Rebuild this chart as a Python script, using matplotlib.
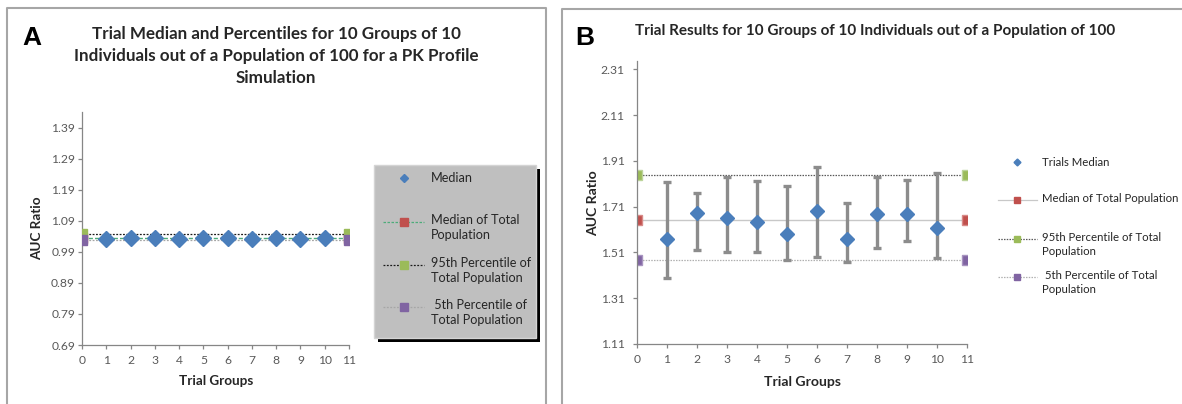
import matplotlib
matplotlib.use("Agg")
import matplotlib.pyplot as plt
from matplotlib.patches import Rectangle

W, H = 1182, 404
plt.rcParams['font.family'] = ['Lato', 'DejaVu Sans']

# ---- data -------------------------------------------------------------
groups = [1, 2, 3, 4, 5, 6, 7, 8, 9, 10]
pop_x = [0, 11]
x_ticks = list(range(0, 12))

# Panel A: medians of 10 trial groups (PK profile simulation)
a_median = [1.030, 1.035, 1.035, 1.032, 1.035, 1.035, 1.032, 1.035, 1.032, 1.035]
a_pop_median = 1.035
a_pop_p95 = 1.048
a_pop_p5 = 1.028
a_yticks = [0.69, 0.79, 0.89, 0.99, 1.09, 1.19, 1.29, 1.39]

# Panel B: trial medians with their ranges
b_median = [1.568, 1.683, 1.660, 1.642, 1.591, 1.690, 1.568, 1.680, 1.679, 1.619]
b_low = [1.399, 1.521, 1.511, 1.511, 1.478, 1.491, 1.470, 1.530, 1.559, 1.488]
b_high = [1.817, 1.770, 1.840, 1.824, 1.802, 1.882, 1.725, 1.840, 1.827, 1.859]
b_pop_median = 1.651
b_pop_p95 = 1.850
b_pop_p5 = 1.479
b_yticks = [1.11, 1.31, 1.51, 1.71, 1.91, 2.11, 2.31]

# ---- colours ----------------------------------------------------------
BLUE = '#4a7ebb'
RED = '#c0504d'
GREEN = '#9bbb59'
PURPLE = '#8064a2'
AXIS = '#868686'
TICKTXT = '#595959'
TXT = '#262626'


def pt(px):
    return px * 72.0 / 100.0


fig = plt.figure(figsize=(W / 100, H / 100), dpi=100)


def px_axes(x0, y0, x1, y1, **kw):
    return fig.add_axes([x0 / W, 1 - y1 / H, (x1 - x0) / W, (y1 - y0) / H], **kw)


def style_axes(ax, yticks, ylim, pad):
    ax.set_xlim(0, 11)
    ax.set_ylim(*ylim)
    ax.set_xticks(x_ticks)
    ax.set_yticks(yticks)
    ax.set_yticklabels([f"{v:.2f}" for v in yticks])
    for s in ('top', 'right'):
        ax.spines[s].set_visible(False)
    for s in ('left', 'bottom'):
        ax.spines[s].set_color(AXIS)
        ax.spines[s].set_linewidth(0.9)
    ax.tick_params(axis='both', colors=AXIS, length=3, width=0.9,
                   labelcolor=TICKTXT, labelsize=8.7)
    ax.tick_params(axis='y', pad=pad)
    ax.tick_params(axis='x', pad=4)
    ax.set_facecolor('none')


# ---- panel A ----------------------------------------------------------
axA = px_axes(82, 112, 349, 345)
style_axes(axA, a_yticks, (0.69, 1.44), 2)
axA.plot(pop_x, [a_pop_median] * 2, color='#4dac7a', lw=1.0, ls=(0, (3, 1.5)),
         marker='s', ms=6.5, mfc=RED, mec=RED, zorder=3)
axA.plot(pop_x, [a_pop_p95] * 2, color='#1a1a1a', lw=0.9, ls=(0, (1.5, 1.2)),
         marker='s', ms=6.5, mfc=GREEN, mec=GREEN, zorder=3)
axA.plot(pop_x, [a_pop_p5] * 2, color='#a6a6a6', lw=0.9, ls=(0, (1.5, 1.2)),
         marker='s', ms=6.5, mfc=PURPLE, mec=PURPLE, zorder=3)
axA.plot(groups, a_median, ls='none', marker='D', ms=8, mfc=BLUE, mec=BLUE,
         zorder=4, clip_on=False)

# ---- panel B ----------------------------------------------------------
axB = px_axes(637, 61, 967, 344)
style_axes(axB, b_yticks, (1.11, 2.347), 6)
axB.plot(pop_x, [b_pop_median] * 2, color='#c8c8c8', lw=1.0,
         marker='s', ms=6.5, mfc=RED, mec='#d88a88', zorder=2)
axB.plot(pop_x, [b_pop_p95] * 2, color='#595959', lw=0.9, ls=(0, (1.2, 1.0)),
         marker='s', ms=6.5, mfc=GREEN, mec='#bcd49a', zorder=2)
axB.plot(pop_x, [b_pop_p5] * 2, color='#b0b0b0', lw=0.9, ls=(0, (1.2, 1.0)),
         marker='s', ms=6.5, mfc=PURPLE, mec='#a894c0', zorder=2)
err_lo = [m - l for m, l in zip(b_median, b_low)]
err_hi = [h - m for m, h in zip(b_median, b_high)]
axB.errorbar(groups, b_median, yerr=[err_lo, err_hi], fmt='none',
             ecolor='#8c8c8c', elinewidth=2.4, capsize=2.8, capthick=2.4, zorder=3)
axB.plot(groups, b_median, ls='none', marker='D', ms=7.5, mfc=BLUE, mec=BLUE,
         zorder=4)

# ---- overlay in pixel coordinates: frames, titles, legends -------------
ov = fig.add_axes([0, 0, 1, 1], zorder=10)
ov.set_xlim(0, W)
ov.set_ylim(H, 0)
ov.axis('off')

BORDER = '#a6a6a6'
ov.plot([7, 7, 546, 546], [420, 8, 8, 420], color=BORDER, lw=1.5, clip_on=False)
ov.plot([562, 562, 1200], [420, 9, 9], color=BORDER, lw=1.5, clip_on=False)

ov.text(22, 45, 'A', fontsize=19, fontweight='bold', family='Liberation Sans',
        ha='left', va='baseline', color='black')
ov.text(575, 45, 'B', fontsize=19, fontweight='bold', family='Liberation Sans',
        ha='left', va='baseline', color='black')

ov.text(276, 56, 'Trial Median and Percentiles for 10 Groups of 10\n'
        'Individuals out of a Population of 100 for a PK Profile\nSimulation',
        fontsize=pt(17), fontweight='bold', ha='center', va='center',
        linespacing=1.45, color=TXT)
ov.text(875, 31, 'Trial Results for 10 Groups of 10 Individuals out of a Population of 100',
        fontsize=pt(15.2), fontweight='bold', ha='center', va='center', color=TXT)

# axis titles
ov.text(37, 228, 'AUC Ratio', rotation=90, fontsize=pt(13.5), fontweight='bold',
        ha='center', va='center', color=TXT)
ov.text(216, 381, 'Trial Groups', fontsize=pt(13.5), fontweight='bold',
        ha='center', va='center', color=TXT)
ov.text(593, 203, 'AUC Ratio', rotation=90, fontsize=pt(14), fontweight='bold',
        ha='center', va='center', color=TXT)
ov.text(803, 382, 'Trial Groups', fontsize=pt(14), fontweight='bold',
        ha='center', va='center', color=TXT)

# legend of panel A: grey box with a dark drop shadow
ov.add_patch(Rectangle((378, 169), 162, 173, facecolor='black', edgecolor='none'))
ov.add_patch(Rectangle((374, 165), 162, 173, facecolor='#bfbfbf',
                       edgecolor='#d4d4d4', lw=1))
LEG_FS_A = pt(12.6)
ov.plot([404], [178], marker='D', ms=4, color=BLUE, ls='none')
ov.text(431, 178, 'Median', fontsize=LEG_FS_A, va='center', color=TXT)
legA = [
    (222, '#4dac7a', (0, (2, 1.2)), RED, 'Median of Total\nPopulation'),
    (265, '#1a1a1a', (0, (1.5, 1.2)), GREEN, '95th Percentile of\nTotal Population'),
    (307, '#a6a6a6', (0, (1.5, 1.2)), PURPLE, ' 5th Percentile of\nTotal Population'),
]
for y, lc, ls, mc, lab in legA:
    ov.plot([383, 424], [y, y], color=lc, lw=0.9, ls=ls)
    ov.plot([404], [y], marker='s', ms=5.5, color=mc, ls='none')
    ov.text(431, y - 8, lab, fontsize=LEG_FS_A, va='top', linespacing=1.3, color=TXT)

# legend of panel B
LEG_FS_B = pt(11.4)
ov.plot([1017], [162], marker='D', ms=3.5, color=BLUE, ls='none')
ov.text(1042, 162, 'Trials Median', fontsize=LEG_FS_B, va='center', color=TXT)
legB = [
    (200, '#c8c8c8', '-', RED, 'Median of Total Population'),
    (239, '#595959', (0, (1.2, 1.0)), GREEN, '95th Percentile of Total\nPopulation'),
    (277, '#b0b0b0', (0, (1.2, 1.0)), PURPLE, ' 5th Percentile of Total\nPopulation'),
]
for y, lc, ls, mc, lab in legB:
    ov.plot([998, 1037], [y, y], color=lc, lw=0.9, ls=ls)
    ov.plot([1017], [y], marker='s', ms=5, color=mc, ls='none')
    ov.text(1042, y - 7, lab, fontsize=LEG_FS_B, va='top', linespacing=1.3, color=TXT)

fig.savefig('out.png', dpi=100, facecolor='white')
